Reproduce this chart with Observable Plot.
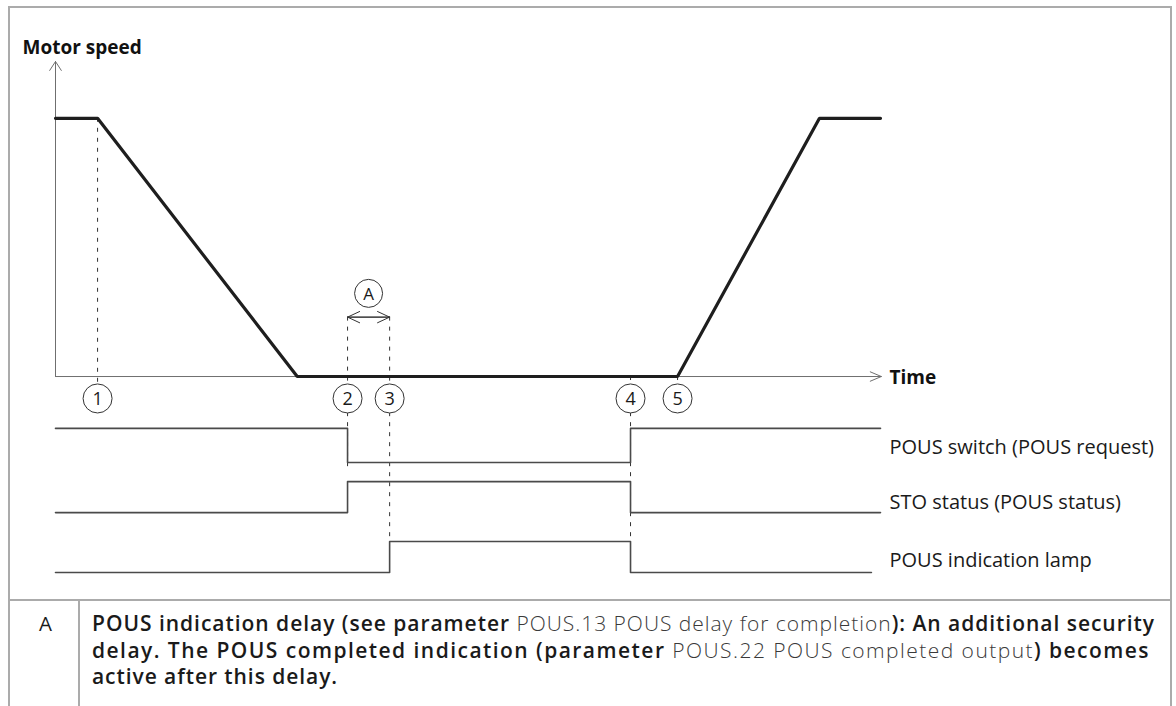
<!DOCTYPE html>
<html>
<head>
<meta charset="utf-8">
<script src="https://cdn.jsdelivr.net/npm/d3@7"></script>
<script src="https://cdn.jsdelivr.net/npm/@observablehq/plot@0.6"></script>
<style>
  html, body { margin: 0; padding: 0; background: #fff; }
  #wrap { position: relative; width: 1176px; height: 706px; overflow: hidden; font-family: "Open Sans", sans-serif; }
  #frame { position: absolute; left: 8px; top: 6px; width: 1164px; height: 740px; border: 2px solid #ababab; box-sizing: border-box; }
  #sep { position: absolute; left: 8px; top: 599px; width: 1164px; height: 2px; background: #ababab; }
  #vsep { position: absolute; left: 78px; top: 600px; width: 2px; height: 120px; background: #ababab; }
  #chart { position: absolute; left: 0; top: 0; }
  #keyA { position: absolute; left: 39px; top: 610px; font-size: 20.5px; line-height: 26.5px; color: #1a1a1a; }
  #desc { position: absolute; left: 92px; top: 610px; font-size: 21px; line-height: 26.5px; color: #1a1a1a; white-space: nowrap; }
  #desc .ln { display: inline-block; }
  #desc b { font-weight: 600; color: #1a1a1a; }
  #desc span.l { font-weight: 300; color: #3a3a3a; }
</style>
</head>
<body>
<div id="wrap">
  <div id="frame"></div>
  <div id="sep"></div>
  <div id="vsep"></div>
  <div id="chart"></div>
  <div id="keyA"></div>
  <div id="desc"></div>
</div>
<script>
// ---- data (schematic time units 0..100, speed in % of nominal) ----
const speedTime  = [0, 5.1, 29.3, 75.4, 92.6, 100];
const speedValue = [100, 100, 0, 0, 100, 100];

const eventLabels = ["1", "2", "3", "4", "5"];
const eventTimes  = [5.1, 35.4, 40.5, 69.7, 75.4];

const signalNames   = ["POUS switch (POUS request)", "STO status (POUS status)", "POUS indication lamp"];
const signalHigh    = [-20.1, -40.7, -63.9];
const signalLow     = [-33.3, -52.7, -75.9];
const signalChanges = [[0, 35.4, 69.7], [0, 35.4, 69.7], [0, 40.5, 69.7]];
const signalStates  = [[1, 0, 1], [0, 1, 0], [0, 1, 0]];
const signalEnd     = [100, 100, 98.9];
const signalLabelY  = [-27.4, -48.7, -71.3];

const delayLabel = "A";
const delayFrom = 35.4, delayTo = 40.5, delayLevel = 23, delayLabelLevel = 32.2;

// dashed guide segments: time, from, to
const guideTime = [5.1, 35.4, 35.4, 40.5, 40.5, 69.7, 69.7, 75.4];
const guideFrom = [100, 23, -14, 23, -14, 0, -14, 0];
const guideTo   = [-2.3, -2.3, -36.4, -2.3, -64, -2.3, -64, -2.3];

const axisTitleY = "Motor speed";
const axisTitleX = "Time";

const keyLetter = "A";
const keyText = [
  [["b", "POUS indication delay (see parameter "], ["l", "POUS.13 POUS delay for completion"], ["b", "): An additional security"]],
  [["b", "delay. The POUS completed indication (parameter "], ["l", "POUS.22 POUS completed output"], ["b", ") becomes"]],
  [["b", "active after this delay."]]
];
const keyLineWidths = [1063, 1058, 246];

// ---- derived tables ----
const speed = speedTime.map((t, i) => ({t, v: speedValue[i]}));
const events = eventTimes.map((t, i) => ({t, label: eventLabels[i]}));
const guides = guideTime.map((t, i) => ({t, y1: guideFrom[i], y2: guideTo[i]}));
const signals = [];
signalNames.forEach((name, s) => {
  signalChanges[s].forEach((t, k) => {
    signals.push({name, t, y: signalStates[s][k] ? signalHigh[s] : signalLow[s]});
  });
  const last = signalStates[s][signalStates[s].length - 1];
  signals.push({name, t: signalEnd[s], y: last ? signalHigh[s] : signalLow[s]});
});
const labels = signalNames.map((name, s) => ({name, y: signalLabelY[s], t: 100}));
const mid = (delayFrom + delayTo) / 2;

const font = "'Open Sans', sans-serif";
const chart = Plot.plot({
  width: 1176,
  height: 600,
  marginLeft: 55,
  marginRight: 296,
  marginTop: 61,
  marginBottom: 28,
  x: {domain: [0, 100], axis: null},
  y: {domain: [-75.9, 122], axis: null},
  style: {background: "transparent", overflow: "visible", fontFamily: font},
  marks: [
    // axes
    Plot.arrow([0], {x1: 0, y1: 0, x2: 0, y2: 122, stroke: "#6f6f6f", strokeWidth: 1, headLength: 16, headAngle: 66}),
    Plot.arrow([0], {x1: 0, y1: 0, x2: 100.1, y2: 0, stroke: "#6f6f6f", strokeWidth: 1, headLength: 18, headAngle: 46}),
    // dashed guides
    Plot.ruleX(guides, {x: "t", y1: "y1", y2: "y2", stroke: "#333", strokeWidth: 1, strokeDasharray: "4,6"}),
    // speed profile
    Plot.line(speed, {x: "t", y: "v", stroke: "#1e1e1e", strokeWidth: 3.2, strokeLinejoin: "miter"}),
    // signals
    Plot.line(signals, {x: "t", y: "y", z: "name", curve: "step-after", stroke: "#4a4a4a", strokeWidth: 1.6}),
    Plot.text(labels, {x: "t", y: "y", text: "name", textAnchor: "start", dx: 9, fontSize: 20, fill: "#1a1a1a"}),
    // delay arrow A (double headed)
    Plot.arrow([0, 1], {x1: (d) => d ? delayFrom : delayTo, y1: delayLevel, x2: (d) => d ? delayTo : delayFrom, y2: delayLevel, stroke: "#333", strokeWidth: 1, headLength: 20, headAngle: 50}),
    Plot.dot([0], {x: mid, y: delayLabelLevel, r: 14, stroke: "#333", fill: "white", strokeWidth: 1}),
    Plot.text([0], {x: mid, y: delayLabelLevel, text: () => delayLabel, fontSize: 17, fill: "#1a1a1a", dy: 1}),
    // event markers
    Plot.dot(events, {x: "t", y: -8.5, r: 14.5, stroke: "#333", fill: "white", strokeWidth: 1}),
    Plot.text(events, {x: "t", y: -8.5, text: "label", fontSize: 18, fill: "#1a1a1a", dy: 1}),
    // axis titles
    Plot.text([0], {x: 0, y: 122, text: () => axisTitleY, textAnchor: "start", dx: -33, dy: -14, fontSize: 19, fontWeight: "bold", fill: "#111"}),
    Plot.text([0], {x: 100, y: 0, text: () => axisTitleX, textAnchor: "start", dx: 9, dy: 1, fontSize: 19, fontWeight: "bold", fill: "#111"})
  ]
});
document.getElementById("chart").appendChild(chart);

document.getElementById("keyA").textContent = keyLetter;
const desc = document.getElementById("desc");
keyText.forEach((line, i) => {
  const ln = document.createElement("span");
  ln.className = "ln";
  line.forEach(([kind, txt]) => {
    const el = document.createElement(kind === "b" ? "b" : "span");
    if (kind === "l") el.className = "l";
    el.textContent = txt;
    ln.appendChild(el);
  });
  desc.appendChild(ln);
  if (i < keyText.length - 1) desc.appendChild(document.createElement("br"));
  const w = ln.getBoundingClientRect().width;
  const n = line.reduce((a, [, t]) => a + t.length, 0);
  ln.style.letterSpacing = ((keyLineWidths[i] - w) / n).toFixed(3) + "px";
});
</script>
</body>
</html>
